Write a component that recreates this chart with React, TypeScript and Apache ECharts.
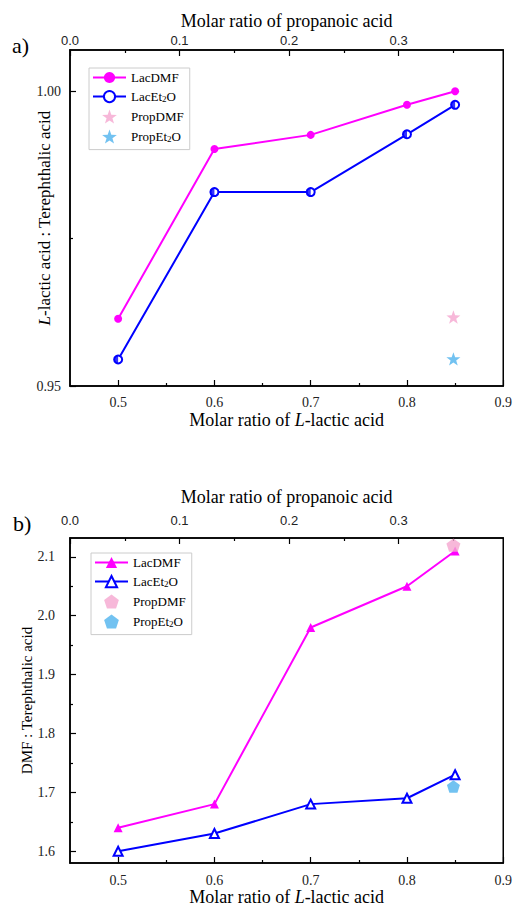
import React, { useEffect, useRef } from "react";
import * as echarts from "echarts";

// ---- data ----
const lacRatio = [0.5, 0.6, 0.7, 0.8, 0.85];
const propRatio = [0.35];
const aLacDMF = [0.9614, 0.9902, 0.9926, 0.9977, 1.0];
const aLacEt2O = [0.9545, 0.9829, 0.9829, 0.9927, 0.9977];
const aPropDMF = [0.9617];
const aPropEt2O = [0.9546];
const bLacDMF = [1.64, 1.68, 1.98, 2.05, 2.11];
const bLacEt2O = [1.6, 1.63, 1.68, 1.69, 1.73];
const bPropDMF = [2.12];
const bPropEt2O = [1.71];

const lacTicks = [0.5, 0.6, 0.7, 0.8, 0.9];
const lacMinor = [0.55, 0.65, 0.75, 0.85];
const propTicks = [0, 0.1, 0.2, 0.3];
const propMinor = [0.05, 0.15, 0.25, 0.35];
const aYTicks = [0.95, 1.0];
const aYMinor = [0.975];
const bYTicks = [1.6, 1.7, 1.8, 1.9, 2.0, 2.1];
const bYMinor = [1.65, 1.75, 1.85, 1.95, 2.05];

const legendA = ["LacDMF", "LacEt2O", "PropDMF", "PropEt2O"];
const legendB = ["b:LacDMF", "b:LacEt2O", "b:PropDMF", "b:PropEt2O"];

const serif = "Liberation Serif";
const sans = "Liberation Sans";
const MAG = "#ff00ff";
const BLUE = "#0000ff";
const PINK = "#f5a6cf";
const LBLUE = "#4fb3ee";
const STAR =
  "path://M50 0 L61.76 33.82 L97.55 34.55 L69.02 56.18 L79.39 90.45 L50 70 L20.61 90.45 L30.98 56.18 L2.45 34.55 L38.24 33.82 Z";
const PENT = "path://M50 0 L97.55 34.55 L79.39 90.45 L20.61 90.45 L2.45 34.55 Z";
const HALF = "path://M50 0 A50 50 0 0 0 50 100 Z";

const pairs = (xs: number[], ys: number[]) => xs.map((x, i) => [x, ys[i]]);

function axis(
  grid: number,
  position: string,
  min: number,
  max: number,
  ticks: number[],
  minor: boolean,
  extra: any = {}
) {
  const base: any = {
    type: "value",
    gridIndex: grid,
    position,
    min,
    max,
    nameMoveOverlap: false,
    splitLine: { show: false },
    axisLine: { show: !minor, onZero: false, lineStyle: { color: "#000", width: 1.5 } },
    axisTick: {
      show: true,
      inside: true,
      length: minor ? 3 : 6,
      customValues: ticks,
      lineStyle: { color: "#000", width: 1.2 },
    },
    axisLabel: minor ? { show: false } : { show: true, customValues: ticks },
  };
  return Object.assign(base, extra, {
    axisLabel: Object.assign({}, base.axisLabel, extra.axisLabel || {}),
  });
}

const nameStyle = (size: number) => ({
  fontFamily: serif,
  fontSize: size,
  color: "#000",
  rich: {
    n: { fontFamily: serif, fontSize: size, color: "#000" },
    i: { fontFamily: serif, fontSize: size, fontStyle: "italic", color: "#000" },
  },
});

const fmtLegend = (n: string) => n.replace("b:", "").replace("Et2O", "Et{sub|2}O");

function legend(left: number, top: number, data: string[]) {
  return {
    left,
    top,
    orient: "vertical",
    data,
    padding: [3, 6, 6, 3],
    itemGap: 6,
    itemWidth: 33,
    itemHeight: 14,
    borderColor: "#cccccc",
    borderWidth: 1,
    backgroundColor: "#fff",
    formatter: fmtLegend,
    textStyle: {
      fontFamily: serif,
      fontSize: 13,
      color: "#000",
      rich: { sub: { fontFamily: serif, fontSize: 9, color: "#000", padding: [5, 0, 0, 0] } },
    },
  };
}

export default function App() {
  const ref = useRef<HTMLDivElement>(null);
  useEffect(() => {
    if (!ref.current) return;
    const chart = echarts.init(ref.current, undefined, { renderer: "svg" });
    const botLab = (m: number) => ({
      fontFamily: serif,
      fontSize: 14,
      color: "#222",
      margin: m,
      formatter: (v: number) => v.toFixed(1),
    });
    const topLab = (m: number) => ({
      fontFamily: sans,
      fontSize: 13,
      color: "#222",
      margin: m,
      formatter: (v: number) => v.toFixed(1),
    });
    const option: any = {
      animation: false,
      backgroundColor: "#fff",
      textStyle: { fontFamily: serif },
      title: [
        { text: "a)", left: 12, top: 34, padding: 0, textStyle: { fontFamily: serif, fontSize: 22, fontWeight: "normal", color: "#000" } },
        { text: "b)", left: 13, top: 512, padding: 0, textStyle: { fontFamily: serif, fontSize: 22, fontWeight: "normal", color: "#000" } },
      ],
      grid: [
        { left: 70, top: 50, width: 435, height: 336, show: true, borderColor: "#000", borderWidth: 1.5, backgroundColor: "transparent" },
        { left: 70, top: 538, width: 435, height: 325, show: true, borderColor: "#000", borderWidth: 1.5, backgroundColor: "transparent" },
      ],
      legend: [legend(89, 68, legendA), legend(91, 553, legendB)],
      xAxis: [
        axis(0, "bottom", 0.45, 0.9, lacTicks, false, {
          name: "{n|Molar ratio of }{i|L}{n|-lactic acid}",
          nameLocation: "middle",
          nameGap: 25,
          nameTextStyle: nameStyle(18),
          axisLabel: botLab(9),
        }),
        axis(0, "top", 0, 0.3955, propTicks, false, {
          name: "{n|Molar ratio of propanoic acid}",
          nameLocation: "middle",
          nameGap: 20,
          nameTextStyle: nameStyle(18),
          axisLabel: topLab(3),
        }),
        axis(0, "bottom", 0.45, 0.9, lacMinor, true),
        axis(0, "top", 0, 0.3955, propMinor, true),
        axis(1, "bottom", 0.45, 0.9, lacTicks, false, {
          name: "{n|Molar ratio of }{i|L}{n|-lactic acid}",
          nameLocation: "middle",
          nameGap: 25,
          nameTextStyle: nameStyle(18),
          axisLabel: botLab(10),
        }),
        axis(1, "top", 0, 0.3955, propTicks, false, {
          name: "{n|Molar ratio of propanoic acid}",
          nameLocation: "middle",
          nameGap: 32,
          nameTextStyle: nameStyle(18),
          axisLabel: topLab(11),
        }),
        axis(1, "bottom", 0.45, 0.9, lacMinor, true),
        axis(1, "top", 0, 0.3955, propMinor, true),
      ],
      yAxis: [
        axis(0, "left", 0.95, 1.007, aYTicks, false, {
          name: "{i|L}{n|-lactic acid : Terephthalic acid}",
          nameLocation: "middle",
          nameGap: 17,
          nameTextStyle: nameStyle(17),
          axisLabel: { fontFamily: serif, fontSize: 14, color: "#222", margin: 9, formatter: (v: number) => v.toFixed(2) },
        }),
        axis(0, "left", 0.95, 1.007, aYMinor, true),
        axis(1, "left", 1.58, 2.132, bYTicks, false, {
          name: "{n|DMF : Terephthalic acid}",
          nameLocation: "middle",
          nameGap: 36,
          nameTextStyle: nameStyle(15),
          axisLabel: { fontFamily: serif, fontSize: 14, color: "#222", margin: 15, formatter: (v: number) => v.toFixed(1) },
        }),
        axis(1, "left", 1.58, 2.132, bYMinor, true),
      ],
      series: [
        {
          name: "LacDMF", type: "line", xAxisIndex: 0, yAxisIndex: 0,
          data: pairs(lacRatio, aLacDMF), symbol: "circle", symbolSize: 8,
          itemStyle: { color: MAG }, lineStyle: { color: MAG, width: 2 }, z: 3,
        },
        {
          name: "LacEt2O", type: "line", xAxisIndex: 0, yAxisIndex: 0,
          data: pairs(lacRatio, aLacEt2O), symbol: "emptyCircle", symbolSize: 8,
          itemStyle: { color: BLUE, borderWidth: 1.5 }, lineStyle: { color: BLUE, width: 2 }, z: 3,
        },
        {
          name: "_half", type: "scatter", xAxisIndex: 0, yAxisIndex: 0, silent: true,
          data: pairs(lacRatio, aLacEt2O), symbol: HALF, symbolSize: 8, symbolKeepAspect: true,
          symbolOffset: [-2, 0], itemStyle: { color: BLUE }, z: 4,
        },
        {
          name: "PropDMF", type: "scatter", xAxisIndex: 1, yAxisIndex: 0,
          data: pairs(propRatio, aPropDMF), symbol: STAR, symbolSize: 14, symbolKeepAspect: true,
          itemStyle: { color: PINK }, z: 5,
        },
        {
          name: "PropEt2O", type: "scatter", xAxisIndex: 1, yAxisIndex: 0,
          data: pairs(propRatio, aPropEt2O), symbol: STAR, symbolSize: 14, symbolKeepAspect: true,
          itemStyle: { color: LBLUE }, z: 5,
        },
        {
          name: "b:LacDMF", type: "line", xAxisIndex: 4, yAxisIndex: 2,
          data: pairs(lacRatio, bLacDMF), symbol: "triangle", symbolSize: 9,
          itemStyle: { color: MAG }, lineStyle: { color: MAG, width: 2 }, z: 3,
        },
        {
          name: "b:LacEt2O", type: "line", xAxisIndex: 4, yAxisIndex: 2,
          data: pairs(lacRatio, bLacEt2O), symbol: "emptyTriangle", symbolSize: 9,
          itemStyle: { color: BLUE, borderWidth: 1.2 }, lineStyle: { color: BLUE, width: 2 }, z: 3,
        },
        {
          name: "b:PropDMF", type: "scatter", xAxisIndex: 5, yAxisIndex: 2,
          data: pairs(propRatio, bPropDMF), symbol: PENT, symbolSize: 14, symbolKeepAspect: true,
          itemStyle: { color: PINK }, z: 5,
        },
        {
          name: "b:PropEt2O", type: "scatter", xAxisIndex: 5, yAxisIndex: 2,
          data: pairs(propRatio, bPropEt2O), symbol: PENT, symbolSize: 13, symbolKeepAspect: true,
          itemStyle: { color: LBLUE }, z: 5,
        },
      ],
    };
    chart.setOption(option);
    return () => chart.dispose();
  }, []);
  return (
    <div
      ref={ref}
      style={{ position: "absolute", left: 0, top: 0, width: 515, height: 907, background: "#fff" }}
    />
  );
}
